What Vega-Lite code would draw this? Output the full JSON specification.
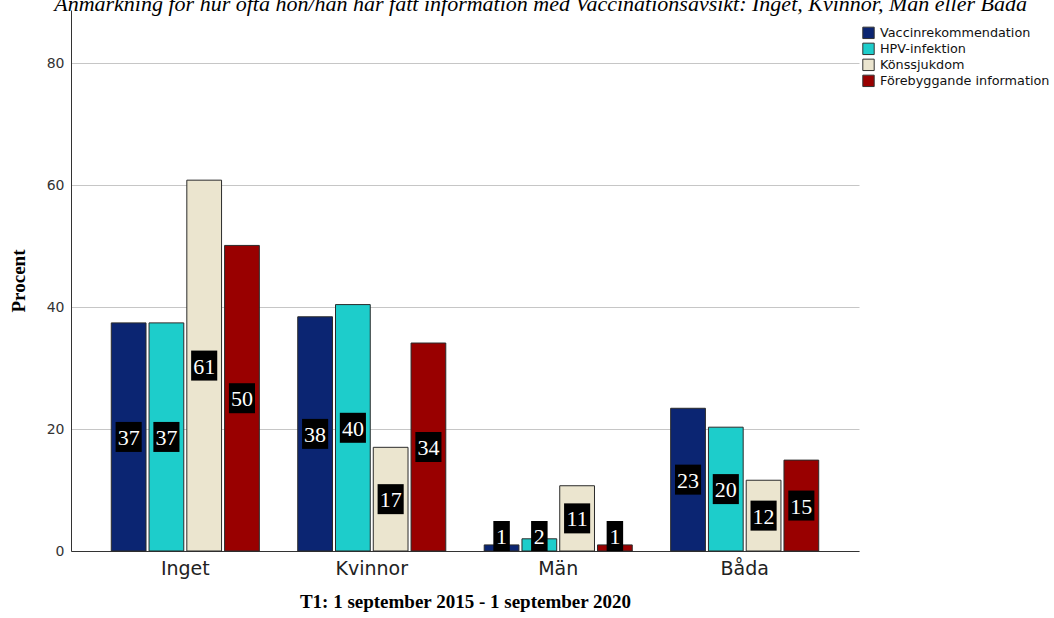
{
  "$schema": "https://vega.github.io/schema/vega-lite/v6.json",
  "width": 788,
  "height": 541,
  "autosize": {"type": "none"},
  "padding": {"left": 71, "top": 10, "right": 195, "bottom": 67},
  "background": "white",
  "title": {
    "text": "Anmärkning för hur ofta hon/han har fått information med Vaccinationsavsikt: Inget, Kvinnor, Män eller Båda",
    "anchor": "end",
    "frame": "group",
    "dx": 168,
    "offset": -6,
    "font": "Liberation Serif",
    "fontSize": 22,
    "fontStyle": "italic",
    "fontWeight": "normal",
    "color": "#000000"
  },
  "config": {
    "view": {"stroke": null},
    "axis": {"labelFont": "DejaVu Sans", "titleFont": "Liberation Serif"}
  },
  "data": {
    "values": [
      {"grupp": "Inget", "kategori": "Vaccinrekommendation", "procent": 37.4},
      {"grupp": "Inget", "kategori": "HPV-infektion", "procent": 37.4},
      {"grupp": "Inget", "kategori": "Könssjukdom", "procent": 60.8},
      {"grupp": "Inget", "kategori": "Förebyggande information", "procent": 50.1},
      {"grupp": "Kvinnor", "kategori": "Vaccinrekommendation", "procent": 38.4},
      {"grupp": "Kvinnor", "kategori": "HPV-infektion", "procent": 40.4},
      {"grupp": "Kvinnor", "kategori": "Könssjukdom", "procent": 17.0},
      {"grupp": "Kvinnor", "kategori": "Förebyggande information", "procent": 34.1},
      {"grupp": "Män", "kategori": "Vaccinrekommendation", "procent": 1.0},
      {"grupp": "Män", "kategori": "HPV-infektion", "procent": 2.0},
      {"grupp": "Män", "kategori": "Könssjukdom", "procent": 10.7},
      {"grupp": "Män", "kategori": "Förebyggande information", "procent": 1.0},
      {"grupp": "Båda", "kategori": "Vaccinrekommendation", "procent": 23.4},
      {"grupp": "Båda", "kategori": "HPV-infektion", "procent": 20.3},
      {"grupp": "Båda", "kategori": "Könssjukdom", "procent": 11.6},
      {"grupp": "Båda", "kategori": "Förebyggande information", "procent": 14.9}
    ]
  },
  "transform": [
    {"calculate": "max(datum.procent / 2, 2.46)", "as": "etikettlage"},
    {"calculate": "datum.procent >= 9.5 ? 'bred' : 'smal'", "as": "ruta"}
  ],
  "encoding": {
    "x": {
      "field": "grupp",
      "type": "nominal",
      "sort": ["Inget", "Kvinnor", "Män", "Båda"],
      "scale": {"type": "band", "paddingInner": 0.206, "paddingOuter": 0.216},
      "axis": {
        "labelAngle": 0,
        "labelFont": "DejaVu Sans",
        "labelFontSize": 19,
        "labelColor": "#222222",
        "labelPadding": 8,
        "ticks": false,
        "domainColor": "#333333",
        "domainWidth": 1,
        "title": "T1: 1 september 2015 - 1 september 2020",
        "titleFont": "Liberation Serif",
        "titleFontSize": 19,
        "titleFontWeight": "bold",
        "titleColor": "#000000",
        "titlePadding": 14
      }
    },
    "xOffset": {
      "field": "kategori",
      "type": "nominal",
      "sort": ["Vaccinrekommendation", "HPV-infektion", "Könssjukdom", "Förebyggande information"],
      "scale": {"paddingInner": 0.08, "paddingOuter": 0}
    }
  },
  "layer": [
    {
      "mark": {"type": "bar", "stroke": "#2b2b2b", "strokeWidth": 1},
      "encoding": {
        "y": {
          "field": "procent",
          "type": "quantitative",
          "title": "Procent",
          "scale": {"domain": [0, 88.7], "nice": false, "zero": true},
          "axis": {
            "values": [0, 20, 40, 60, 80],
            "grid": true,
            "gridColor": "#c6c6c6",
            "gridWidth": 1,
            "ticks": false,
            "domainColor": "#333333",
            "labelFont": "DejaVu Sans",
            "labelFontSize": 14,
            "labelColor": "#333333",
            "labelPadding": 7,
            "title": "Procent",
            "titleFont": "Liberation Serif",
            "titleFontSize": 19,
            "titleFontWeight": "bold",
            "titleColor": "#000000",
            "titlePadding": 18
          }
        },
        "color": {
          "field": "kategori",
          "type": "nominal",
          "sort": ["Vaccinrekommendation", "HPV-infektion", "Könssjukdom", "Förebyggande information"],
          "scale": {
            "domain": ["Vaccinrekommendation", "HPV-infektion", "Könssjukdom", "Förebyggande information"],
            "range": ["#0b2572", "#1dcdcb", "#ebe5cf", "#990000"]
          },
          "legend": {
            "orient": "none",
            "legendX": 791,
            "legendY": 15,
            "title": null,
            "symbolType": "square",
            "symbolSize": 130,
            "symbolStrokeColor": "#333333",
            "symbolStrokeWidth": 1,
            "symbolOpacity": 1,
            "labelFont": "DejaVu Sans",
            "labelFontSize": 12.8,
            "labelColor": "#111111",
            "labelOffset": 5,
            "labelLimit": 300,
            "clipHeight": 15.7,
            "rowPadding": 0,
            "padding": 0
          }
        }
      }
    },
    {
      "mark": {"type": "point", "filled": true, "fill": "#000000", "opacity": 1, "size": 900, "strokeWidth": 0},
      "encoding": {
        "y": {"field": "etikettlage", "type": "quantitative", "title": "Procent"},
        "shape": {
          "field": "ruta",
          "type": "nominal",
          "scale": {"domain": ["bred", "smal"], "range": ["M-0.87,-1H0.87V1H-0.87Z", "M-0.55,-1H0.55V1H-0.55Z"]},
          "legend": null
        }
      }
    },
    {
      "mark": {"type": "text", "color": "#ffffff", "font": "Liberation Serif", "fontSize": 22, "baseline": "middle", "align": "center", "dy": 1},
      "encoding": {
        "y": {"field": "etikettlage", "type": "quantitative", "title": "Procent"},
        "text": {"field": "procent", "type": "quantitative", "format": ".0f"}
      }
    }
  ]
}
